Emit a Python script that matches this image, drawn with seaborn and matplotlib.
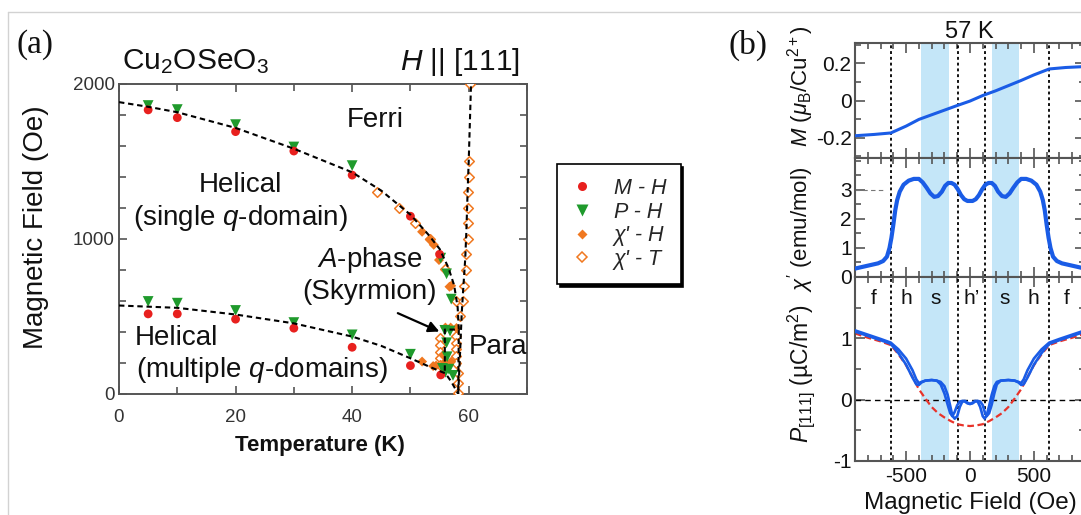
import matplotlib
matplotlib.use("Agg")
import matplotlib.pyplot as plt
from matplotlib.lines import Line2D
from matplotlib.ticker import MultipleLocator
import seaborn as sns

# ---------------- (a) phase diagram of Cu2OSeO3, H || [111] ----------------
# M-H (red circles)
mh_T = [5, 10, 20, 30, 40, 50, 55, 5, 10, 20, 30, 40, 50, 55.2]
mh_H = [1830, 1780, 1690, 1565, 1410, 1145, 900, 516, 516, 482, 424, 301, 183, 123]
# P-H (green triangles)
ph_T = [5, 10, 20, 30, 40, 55.2, 56.2, 57.0, 5, 10, 20, 30, 40, 50,
        55.9, 56.8, 56.2, 56.3, 55.5, 56.6, 57.3, 56.0]
ph_H = [1858, 1832, 1735, 1591, 1471, 875, 774, 611, 596, 585, 538, 460, 381, 256,
        410, 405, 330, 240, 165, 160, 120, 140]
# chi'-H (filled orange diamonds)
xh_T = [52.0, 53.3, 54.0, 54.9, 56.7, 57.0, 52.0, 53.9, 54.4, 55.7, 56.0, 56.9, 57.9,
        55.6, 55.9, 57.0]
xh_H = [1045, 996, 961, 863, 691, 697, 209, 180, 183, 187, 428, 428, 425,
        251, 204, 208]
# chi'-T (open orange diamonds)
xt_T = [44.2, 48.0, 50.7, 53.3, 56.0, 57.9, 58.5,
        60.3, 60.1, 60.1, 59.9, 59.9, 59.8, 59.8, 59.6, 59.5, 59.2, 59.0,
        55.1, 55.1, 55.1, 55.1, 55.1, 57.8, 57.8, 57.8, 57.8, 57.8, 58.1, 58.2, 58.2]
xt_H = [1299, 1198, 1101, 998, 804, 596, 503,
        1997, 1501, 1400, 1299, 1200, 1100, 1000, 900, 799, 698, 599,
        361, 316, 270, 232, 187, 372, 329, 287, 244, 201, 133, 69, 8]

# phase boundaries (guides to the eye)
upper_T = [0, 5, 10, 20, 30, 40, 45, 50, 53, 55, 56.5, 57.5, 58.1, 58.3]
upper_H = [1880, 1850, 1815, 1714, 1580, 1428, 1310, 1155, 1030, 935, 815, 700, 560, 415]
lower_T = [0, 10, 20, 30, 40, 45, 50, 53, 55, 56.0, 57.0, 58.2]
lower_H = [570, 555, 512, 455, 370, 310, 230, 180, 148, 133, 80, 0]
para_T = [58.2, 58.5, 58.8, 59.1, 59.4, 59.6, 59.8, 60.0, 60.2, 60.4]
para_H = [0, 250, 520, 700, 870, 1050, 1290, 1500, 1750, 2000]
aphase_T = [55.9, 55.9, 58.3, 58.2]
aphase_H = [150, 415, 415, 0]

# ---------------- (b) field sweeps at 57 K ----------------
m_H = [-900, -750, -620, -500, -400, -300, -200, -100, 0, 100, 200, 300, 400, 500, 620, 750, 900]
m_val = [-0.19, -0.183, -0.175, -0.138, -0.102, -0.077, -0.052, -0.027, -0.003,
         0.027, 0.052, 0.08, 0.108, 0.138, 0.17, 0.178, 0.183]

chi_H = [-900, -800, -720, -680, -650, -630, -615, -600, -585, -570, -550, -520, -480,
         -440, -400, -370, -340, -310, -280, -250, -220, -195, -170, -145, -120, -95,
         -70, -45, -20, 0, 20, 45, 70, 95, 120, 145, 170, 195, 220, 250, 280, 310, 340,
         370, 400, 440, 480, 520, 550, 570, 585, 600, 615, 630, 650, 680, 720, 800, 900]
chi_val = [0.29, 0.39, 0.47, 0.55, 0.70, 1.0, 1.35, 1.8, 2.3, 2.65, 2.94, 3.18, 3.32,
           3.38, 3.38, 3.26, 3.08, 2.88, 2.76, 2.79, 2.94, 3.14, 3.24, 3.24, 3.18, 3.02,
           2.82, 2.68, 2.62, 2.62, 2.62, 2.68, 2.82, 3.02, 3.18, 3.24, 3.24, 3.14, 2.94,
           2.79, 2.76, 2.88, 3.08, 3.26, 3.38, 3.38, 3.32, 3.18, 2.94, 2.65, 2.3, 1.8,
           1.35, 1.0, 0.70, 0.55, 0.47, 0.39, 0.29]

p_H = [-900, -800, -700, -620, -560, -500, -450, -420, -400, -380, -350, -300, -260,
       -230, -200, -175, -155, -138, -120, -100, -80, -60, -40, -20, 0, 20, 40, 60, 80,
       100, 115, 130, 150, 170, 190, 210, 240, 300, 350, 380, 400, 420, 450, 500, 560,
       620, 700, 800, 900]
# decreasing-field sweep
p_down = [1.13, 1.06, 0.99, 0.93, 0.82, 0.67, 0.48, 0.33, 0.27, 0.29, 0.31, 0.32, 0.31,
          0.25, 0.10, -0.08, -0.22, -0.27, -0.20, -0.09, -0.03, -0.02, -0.03, -0.06,
          -0.07, -0.05, -0.02, -0.03, -0.12, -0.27, -0.31, -0.26, -0.10, 0.08, 0.22,
          0.29, 0.31, 0.32, 0.31, 0.28, 0.24, 0.25, 0.36, 0.57, 0.76, 0.91, 0.97, 1.04, 1.11]
# increasing-field sweep
p_up = [1.11, 1.04, 0.97, 0.91, 0.76, 0.57, 0.36, 0.25, 0.24, 0.28, 0.31, 0.32, 0.31,
        0.29, 0.22, 0.08, -0.10, -0.26, -0.31, -0.27, -0.12, -0.03, -0.02, -0.05,
        -0.07, -0.06, -0.03, -0.02, -0.03, -0.09, -0.20, -0.27, -0.22, -0.08, 0.10,
        0.25, 0.31, 0.32, 0.31, 0.29, 0.27, 0.33, 0.48, 0.67, 0.82, 0.93, 0.99, 1.06, 1.13]
pq_H = [-900, -800, -700, -620, -560, -500, -450, -400, -350, -300, -250, -200, -150,
        -100, -50, 0, 50, 100, 150, 200, 250, 300, 350, 400, 450, 500, 560, 620, 700, 800, 900]
pq_val = [1.08, 1.01, 0.95, 0.89, 0.74, 0.56, 0.37, 0.17, 0.02, -0.12, -0.22, -0.29, -0.35,
          -0.40, -0.42, -0.43, -0.42, -0.40, -0.35, -0.29, -0.22, -0.12, 0.02, 0.17, 0.37,
          0.56, 0.74, 0.89, 0.95, 1.01, 1.08]

phase_bounds = [-620, -95, 115, 620]
skyrmion_bands = [(-380, -165), (170, 385)]
region_H = [-755, -495, -272, 15, 272, 495, 755]
region_lab = ["f", "h", "s", "h’", "s", "h", "f"]

# ---------------- styling ----------------
sns.set_theme(style="ticks")
plt.rcParams["font.family"] = ["Liberation Sans", "DejaVu Sans"]
plt.rcParams["mathtext.fontset"] = "custom"
plt.rcParams["mathtext.rm"] = "Liberation Sans"
plt.rcParams["mathtext.it"] = "Liberation Sans:italic"
plt.rcParams["mathtext.bf"] = "Liberation Sans:bold"
plt.rcParams["axes.unicode_minus"] = False

W, H = 1081, 515
fig = plt.figure(figsize=(W / 100, H / 100), dpi=100)
fig.patch.set_facecolor("white")


def fx(px):
    return px / W


def fy(py):
    return 1 - py / H


RED = "#e8201e"
GREEN = "#1f9a2c"
ORANGE = "#f07820"
BLUE = "#1a5ce6"
SPINE = "#555555"

# thin frame lines of the figure sheet
fig.add_artist(Line2D([fx(8), 1.0], [fy(12), fy(12)], color="#d2d2d2", lw=1.0,
                      transform=fig.transFigure))
fig.add_artist(Line2D([fx(8), fx(8)], [fy(12), 0.0], color="#d2d2d2", lw=1.0,
                      transform=fig.transFigure))

# ---------------- panel (a) ----------------
ax = fig.add_axes([fx(119), fy(394), fx(408), 310.5 / H])
dash = (0, (2.6, 1.8))
for tx, hy in [(upper_T, upper_H), (lower_T, lower_H), (para_T, para_H), (aphase_T, aphase_H)]:
    sns.lineplot(x=tx, y=hy, ax=ax, sort=False, estimator=None, color="black",
                 lw=1.5, linestyle=dash, zorder=4)

sns.scatterplot(x=xt_T, y=xt_H, ax=ax, marker="D", s=24, color="white",
                edgecolor=ORANGE, linewidth=1.1, zorder=3, legend=False)
sns.scatterplot(x=xh_T, y=xh_H, ax=ax, marker="D", s=26, color=ORANGE,
                edgecolor="none", zorder=3, legend=False)
sns.scatterplot(x=ph_T, y=ph_H, ax=ax, marker="v", s=60, color=GREEN,
                edgecolor="none", zorder=3, legend=False)
sns.scatterplot(x=mh_T, y=mh_H, ax=ax, marker="o", s=40, color=RED,
                edgecolor="none", zorder=3, legend=False)

ax.set_xlim(0, 70)
ax.set_ylim(0, 2000)
ax.xaxis.set_major_locator(MultipleLocator(20))
ax.xaxis.set_minor_locator(MultipleLocator(10))
ax.yaxis.set_major_locator(MultipleLocator(1000))
ax.yaxis.set_minor_locator(MultipleLocator(200))
ax.tick_params(which="both", direction="in", top=True, right=True, colors=SPINE,
               labelcolor="#333333", labelsize=13.5, width=1.2)
ax.tick_params(which="major", length=6)
ax.tick_params(which="minor", length=5)
ax.tick_params(axis="x", pad=11)
ax.tick_params(axis="y", pad=3)
ax.set_xlabel("")
ax.set_ylabel("")
for s in ax.spines.values():
    s.set_color(SPINE)
    s.set_linewidth(1.4)

txt_kw = dict(ha="center", va="center", fontsize=20, color="#111111")
ax.text(43.9, 1765, "Ferri", **txt_kw)
ax.text(20.8, 1346, "Helical", **txt_kw)
ax.text(20.8, 1134, "(single $q$-domain)", **txt_kw)
ax.text(43.0, 863, "$A$-phase", **txt_kw)
ax.text(43.0, 657, "(Skyrmion)", **txt_kw)
ax.text(9.8, 361, "Helical", **txt_kw)
ax.text(24.5, 155, "(multiple $q$-domains)", **txt_kw)
ax.text(65.0, 300, "Para", **txt_kw)
ax.annotate("", xy=(55.4, 395), xytext=(47.4, 528),
            arrowprops=dict(arrowstyle="-|>", color="black", lw=1.6, mutation_scale=16))

fig.text(fx(36), fy(227), "Magnetic Field (Oe)", rotation=90, ha="center", va="center",
         fontsize=20, color="#111111")
fig.text(fx(320), fy(445), "Temperature (K)", ha="center", va="center", fontsize=16,
         fontweight="bold", color="#111111")
fig.text(fx(122), fy(62), "Cu$_2$OSeO$_3$", ha="left", va="center", fontsize=21.5,
         color="#111111")
fig.text(fx(520), fy(62), "$H$ || [111]", ha="right", va="center", fontsize=21.5,
         color="#111111")
fig.text(fx(17), fy(45), "(a)", ha="left", va="center", fontsize=24,
         family="Liberation Serif", color="#111111")

handles = [
    Line2D([], [], ls="none", marker="o", ms=6.5, color=RED, mec="none"),
    Line2D([], [], ls="none", marker="v", ms=9, color=GREEN, mec="none"),
    Line2D([], [], ls="none", marker="D", ms=5, color=ORANGE, mec="none"),
    Line2D([], [], ls="none", marker="D", ms=5, mfc="white", mec=ORANGE, mew=1.1),
]
labels = ["M - H", "P - H", "χ' - H", "χ' - T"]
leg = fig.legend(handles, labels, loc="upper left", bbox_to_anchor=(fx(557), fy(164)),
                 frameon=True, fancybox=False, shadow={"color": "black", "alpha": 1},
                 edgecolor="black", prop={"style": "italic", "size": 15.5},
                 handlelength=1.0, handletextpad=1.0, borderpad=0.65, labelspacing=0.12,
                 borderaxespad=0)
leg.get_frame().set_linewidth(1.2)
leg.get_frame().set_alpha(1)

# ---------------- panel (b) ----------------
left_b, width_b = fx(855), fx(230)
ax_m = fig.add_axes([left_b, fy(158), width_b, 115 / H])
ax_c = fig.add_axes([left_b, fy(277), width_b, 119 / H])
ax_p = fig.add_axes([left_b, fy(461), width_b, 184 / H])

for a in (ax_m, ax_c, ax_p):
    for lo, hi in skyrmion_bands:
        a.axvspan(lo, hi, color="#c4e6f8", lw=0, zorder=0)
    for hb in phase_bounds:
        a.axvline(hb, color="black", lw=1.3, ls=(0, (1.6, 1.6)), zorder=1)

sns.lineplot(x=m_H, y=m_val, ax=ax_m, sort=False, estimator=None, color=BLUE, lw=2.2, zorder=3)
sns.lineplot(x=chi_H, y=chi_val, ax=ax_c, sort=False, estimator=None, color=BLUE, lw=3.0, zorder=3)
ax_c.axhline(3, xmax=0.12, color="#777777", lw=0.8, ls=(0, (4, 3)), zorder=2)
ax_p.axhline(0, color="black", lw=1.0, ls=(0, (4, 3)), zorder=1)
sns.lineplot(x=pq_H, y=pq_val, ax=ax_p, sort=False, estimator=None, color="#e8332a",
             lw=1.6, linestyle=(0, (3, 1.6)), zorder=2)
sns.lineplot(x=p_H, y=p_down, ax=ax_p, sort=False, estimator=None, color=BLUE, lw=1.9, zorder=3)
sns.lineplot(x=p_H, y=p_up, ax=ax_p, sort=False, estimator=None, color=BLUE, lw=1.9, zorder=3)

for hx, lab in zip(region_H, region_lab):
    ax_p.text(hx, 1.65, lab, ha="center", va="center", fontsize=15, color="#111111")

ax_m.set_ylim(-0.31, 0.31)
ax_m.yaxis.set_minor_locator(MultipleLocator(0.1))
ax_c.set_ylim(0, 4.1)
ax_c.yaxis.set_minor_locator(MultipleLocator(0.5))
ax_p.set_ylim(-1, 2)
ax_p.yaxis.set_minor_locator(MultipleLocator(0.5))
ax_m.set_yticks([-0.2, 0, 0.2])
ax_m.set_yticklabels(["-0.2", "0", "0.2"])
ax_c.set_yticks([0, 1, 2, 3])
ax_p.set_yticks([-1, 0, 1])

for a in (ax_m, ax_c, ax_p):
    a.set_xlim(-900, 900)
    a.xaxis.set_major_locator(MultipleLocator(500))
    a.xaxis.set_minor_locator(MultipleLocator(100))
    a.tick_params(which="both", direction="in", top=True, right=True, colors=SPINE,
                  labelcolor="#111111", labelsize=15, width=1.2)
    a.tick_params(which="major", length=7)
    a.tick_params(which="minor", length=4)
    a.tick_params(axis="y", pad=2.5)
    a.tick_params(axis="x", pad=4)
    a.set_xlabel("")
    a.set_ylabel("")
    for s in a.spines.values():
        s.set_color(SPINE)
        s.set_linewidth(1.5)
ax_m.tick_params(labelbottom=False)
ax_c.tick_params(labelbottom=False)

fig.text(fx(970), fy(503), "Magnetic Field (Oe)", ha="center", va="center", fontsize=17.5,
         color="#111111")
fig.text(fx(969), fy(32), "57 K", ha="center", va="center", fontsize=17, color="#111111")
fig.text(fx(801), fy(86), r"$M$ ($\mu_{\rm B}$/Cu$^{2+}$)", rotation=90, ha="center",
         va="center", fontsize=16, color="#111111")
fig.text(fx(801), fy(229), r"$\chi'$ (emu/mol)", rotation=90, ha="center", va="center",
         fontsize=16, color="#111111")
fig.text(fx(801), fy(374), r"$P_{[111]}$ (µC/m$^2$)", rotation=90, ha="center",
         va="center", fontsize=16.5, color="#111111")
fig.text(fx(728), fy(45), "(b)", ha="left", va="center", fontsize=24,
         family="Liberation Serif", color="#111111")

fig.savefig("out.png", dpi=100, facecolor="white")
